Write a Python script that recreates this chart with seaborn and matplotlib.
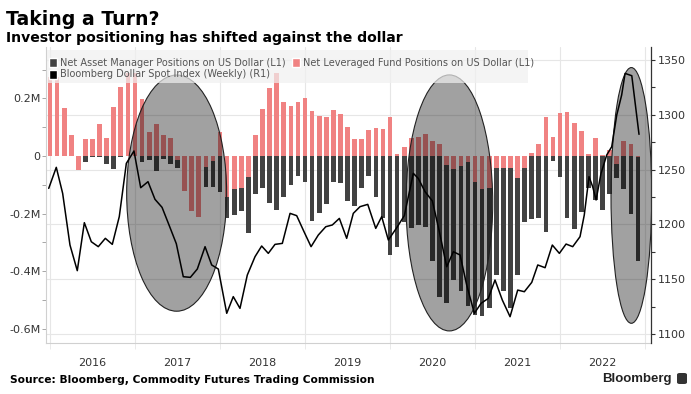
import numpy as np
import pandas as pd
import matplotlib.pyplot as plt
import seaborn as sns
from matplotlib.patches import Ellipse, Patch, Rectangle, FancyBboxPatch

# month-end positions, Dec 2015 .. Nov 2022
months = pd.date_range("2015-12-31", periods=84, freq="ME")

# net positions on US dollar, millions (L1)
asset_mgr = [0.0, 0.0, 0.0, 0.0, 0.0, -0.020, -0.003, -0.005, -0.026, -0.045,
             -0.003, 0.0, 0.0, -0.022, -0.014, -0.051, -0.012, -0.026, -0.043, -0.060,
             -0.090, -0.100, -0.107, -0.107, -0.124, -0.214, -0.205, -0.191, -0.266, -0.133,
             -0.112, -0.165, -0.186, -0.141, -0.101, -0.070, -0.089, -0.226, -0.199, -0.168,
             -0.092, -0.095, -0.158, -0.174, -0.110, -0.068, -0.141, -0.217, -0.344, -0.315,
             -0.228, -0.249, -0.240, -0.246, -0.365, -0.489, -0.512, -0.431, -0.470, -0.522,
             -0.551, -0.555, -0.530, -0.414, -0.470, -0.530, -0.414, -0.228, -0.220, -0.217,
             -0.263, -0.017, -0.072, -0.214, -0.252, -0.194, -0.110, -0.153, -0.188, -0.133,
             -0.075, -0.115, -0.201, -0.365]
lev_funds = [0.276, 0.276, 0.166, 0.073, -0.049, 0.059, 0.059, 0.111, 0.061, 0.169,
             0.241, 0.288, 0.288, 0.198, 0.085, 0.111, 0.073, 0.064, -0.015, -0.121,
             -0.190, -0.213, -0.037, -0.017, 0.082, -0.141, -0.115, -0.110, -0.072, 0.073,
             0.162, 0.238, 0.288, 0.187, 0.175, 0.189, 0.201, 0.158, 0.139, 0.137,
             0.160, 0.145, 0.100, 0.059, 0.058, 0.090, 0.099, 0.093, 0.137, 0.007,
             0.032, 0.061, 0.067, 0.075, 0.053, 0.041, -0.031, -0.046, -0.034, -0.020,
             -0.089, -0.115, -0.112, -0.043, -0.043, -0.043, -0.075, -0.043, 0.012, 0.042,
             0.137, 0.067, 0.148, 0.154, 0.116, 0.088, 0.006, 0.061, 0.002, 0.021,
             -0.026, 0.052, 0.042, -0.005]

# Bloomberg Dollar Spot Index (R1), decimal year / level
dxy_time = [2015.985, 2016.074, 2016.149, 2016.235, 2016.321, 2016.404, 2016.486, 2016.568,
            2016.651, 2016.733, 2016.815, 2016.898, 2016.988, 2017.067, 2017.153, 2017.235,
            2017.318, 2017.400, 2017.486, 2017.568, 2017.651, 2017.733, 2017.824, 2017.902,
            2017.980, 2018.079, 2018.156, 2018.235, 2018.321, 2018.412, 2018.490, 2018.568,
            2018.647, 2018.733, 2018.824, 2018.902, 2018.988, 2019.071, 2019.156, 2019.244,
            2019.321, 2019.404, 2019.490, 2019.568, 2019.647, 2019.738, 2019.832, 2019.902,
            2019.980, 2020.079, 2020.168, 2020.274, 2020.332, 2020.412, 2020.498, 2020.576,
            2020.667, 2020.745, 2020.824, 2020.902, 2020.992, 2021.071, 2021.156, 2021.235,
            2021.321, 2021.412, 2021.502, 2021.580, 2021.667, 2021.738, 2021.824, 2021.909,
            2021.992, 2022.071, 2022.149, 2022.235, 2022.285, 2022.341, 2022.384, 2022.424,
            2022.482, 2022.549, 2022.608, 2022.667, 2022.725, 2022.765, 2022.844, 2022.929]
dxy_value = [1232.9, 1252.1, 1228.3, 1181.2, 1157.8, 1201.6, 1184.2, 1179.7,
             1187.3, 1181.8, 1207.1, 1255.7, 1267.0, 1233.5, 1239.0, 1222.9,
             1215.6, 1199.5, 1182.4, 1152.3, 1151.7, 1159.3, 1179.7, 1163.0,
             1159.3, 1118.9, 1134.1, 1123.4, 1153.8, 1170.6, 1180.3, 1173.6,
             1181.8, 1182.7, 1210.1, 1208.0, 1193.4, 1179.7, 1190.3, 1197.9,
             1199.5, 1205.5, 1187.3, 1210.1, 1216.2, 1218.3, 1196.4, 1207.1,
             1185.8, 1197.0, 1208.0, 1246.6, 1242.0, 1229.9, 1221.4, 1194.9,
             1161.4, 1175.1, 1172.1, 1144.7, 1118.9, 1128.0, 1132.5, 1149.3,
             1131.0, 1115.8, 1140.1, 1138.6, 1147.1, 1163.0, 1160.5, 1181.2,
             1173.6, 1182.1, 1179.7, 1188.8, 1208.6, 1243.6, 1234.4, 1222.3,
             1246.6, 1263.3, 1270.9, 1299.8, 1318.1, 1337.8, 1335.7, 1282.2]

years = ['2016', '2017', '2018', '2019', '2020', '2021', '2022']
left_ticks = [0.2, 0.0, -0.2, -0.4, -0.6]
right_ticks = [1100, 1150, 1200, 1250, 1300, 1350]

PINK = '#f08282'
DARK = '#424242'
GRID = '#e6e6e6'

sns.set_theme(style="white")
plt.rcParams['font.family'] = ['DejaVu Sans']

fig = plt.figure(figsize=(6.91, 3.94), dpi=100)
ax = fig.add_axes([46/691, 1-343/394, 605/691, 296/394])
ax2 = ax.twinx()

LEFT_LIM = (-0.650, 0.379)
RIGHT_LIM = (1091.8, 1361.9)

df = pd.DataFrame({'t': months.year + months.month/12, 'am': asset_mgr, 'lf': lev_funds})
sns.barplot(data=df, x='t', y='am', native_scale=True, width=0.66, color=DARK,
            saturation=1, linewidth=0, errorbar=None, ax=ax, zorder=2)
sns.barplot(data=df, x='t', y='lf', native_scale=True, width=0.66, color=PINK,
            saturation=1, linewidth=0, errorbar=None, ax=ax, zorder=3)

sns.lineplot(x=dxy_time, y=dxy_value, ax=ax2, color='black', linewidth=1.1, sort=False)

ax.set_xlim(2015.953, 2023.07)
ax.set_ylim(*LEFT_LIM)
ax2.set_ylim(*RIGHT_LIM)
ax.set_xlabel('')
ax.set_ylabel('')
ax2.set_ylabel('')

# grid: vertical at year boundaries, horizontal at the right-axis ticks
ax.set_axisbelow(True)
ax.set_xticks(range(2016, 2024))
ax.set_xticklabels([])
ax.set_xticks(np.arange(2016.5, 2023), minor=True)
ax.set_xticklabels(years, minor=True)
ax.grid(axis='x', which='major', color=GRID, lw=0.8)
for v in right_ticks:
    yl = LEFT_LIM[0] + (v - RIGHT_LIM[0]) / (RIGHT_LIM[1] - RIGHT_LIM[0]) * (LEFT_LIM[1] - LEFT_LIM[0])
    ax.axhline(yl, color=GRID, lw=0.8, zorder=0)

ax.set_yticks(left_ticks)
ax.set_yticklabels(['0' if v == 0 else f'{v:.1f}M' for v in left_ticks])
ax.set_yticks(np.arange(-0.6, 0.35, 0.1), minor=True)
ax.tick_params(axis='y', which='both', left=True, length=3, width=0.6, color='#999999',
               labelsize=8, labelcolor='#333333', pad=1)
ax.tick_params(axis='x', which='major', bottom=True, length=4, width=0.6, color=GRID)
ax.tick_params(axis='x', which='minor', bottom=False, length=0, labelsize=8,
               labelcolor='#333333', pad=11)

ax2.set_yticks(right_ticks)
ax2.set_yticks(np.arange(1100, 1361, 25), minor=True)
ax2.tick_params(axis='y', which='both', right=True, length=3, width=0.8, color='#333333',
                labelsize=8, labelcolor='#333333', pad=2)

for s in ['top', 'right']:
    ax.spines[s].set_visible(False)
for s in ['left', 'bottom']:
    ax.spines[s].set_color('#d0d0d0')
    ax.spines[s].set_linewidth(0.8)
for s in ['top', 'left', 'bottom']:
    ax2.spines[s].set_visible(False)
ax2.spines['right'].set_color('#333333')
ax2.spines['right'].set_linewidth(0.9)

# highlighted periods
for cx, cy, w, h in [(2017.49, -0.129, 1.176, 0.821),
                     (2020.698, -0.163, 1.02, 0.890),
                     (2022.839, -0.137, 0.479, 0.889)]:
    ax.add_patch(Ellipse((cx, cy), w, h, facecolor=(0, 0, 0, 0.37),
                         edgecolor='#222222', lw=0.8, zorder=5))

# legend
ax2.add_patch(Rectangle((0.002, 0.878), 0.795, 0.112, transform=ax2.transAxes,
                        facecolor='#f0f0f0', alpha=0.7, edgecolor='none', zorder=6))
handles = [Patch(facecolor=DARK, label='Net Asset Manager Positions on US Dollar (L1)'),
           Patch(facecolor='black', label='Bloomberg Dollar Spot Index (Weekly) (R1)'),
           Patch(facecolor=PINK, label='Net Leveraged Fund Positions on US Dollar (L1)')]
leg = ax2.legend(handles=handles, ncol=2, loc='upper left', bbox_to_anchor=(0.002, 0.971),
                 frameon=False, fontsize=7, handlelength=0.8, handleheight=1.1,
                 handletextpad=0.3, columnspacing=0.7, labelspacing=0.2,
                 borderpad=0.2, borderaxespad=0)
leg.set_zorder(7)
for t in leg.get_texts():
    t.set_color('#555555')

# titles and footer
fig.text(0.008, 0.9365, 'Taking a Turn?', fontsize=13.6, fontweight='bold',
         va='baseline', color='black')
fig.text(0.009, 0.8934, 'Investor positioning has shifted against the dollar', fontsize=10.1,
         fontweight='bold', va='baseline', color='black')
fig.text(0.014, 0.028, 'Source: Bloomberg, Commodity Futures Trading Commission',
         fontsize=7.7, fontweight='bold', va='baseline', color='black')
fig.text(0.9725, 0.030, 'Bloomberg', fontsize=9.5, fontweight='bold',
         family='Liberation Sans', ha='right', va='baseline', color='#222222')
fig.patches.append(FancyBboxPatch((677/691, 1-384/394), 10/691, 11/394,
                                  boxstyle='round,pad=0,rounding_size=0.004',
                                  transform=fig.transFigure, facecolor='#333333',
                                  edgecolor='none'))

fig.savefig('out.png', dpi=100)
